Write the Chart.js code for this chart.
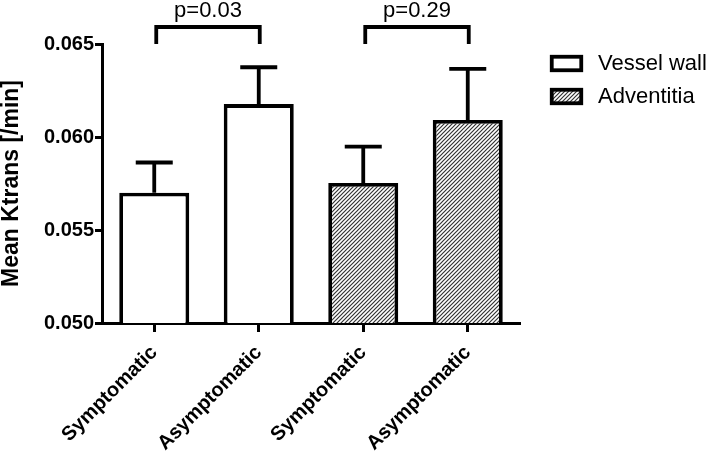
<!DOCTYPE html>
<html>
<head>
<meta charset="utf-8">
<script src="https://cdn.jsdelivr.net/npm/chart.js@4.4.1/dist/chart.umd.min.js"></script>
<style>
  html, body { margin: 0; padding: 0; background: #fff; }
  #wrap { width: 709px; height: 456px; }
</style>
</head>
<body>
<div id="wrap"><canvas id="c" width="709" height="456"></canvas></div>
<script>
// ---- data ----
const categories = ["Symptomatic", "Asymptomatic", "Symptomatic", "Asymptomatic"];
const seriesNames = ["Vessel wall", "Adventitia"];
const vesselWallMeans = [0.0570, 0.06177, null, null];
const adventitiaMeans = [null, null, 0.05753, 0.06091];
const vesselWallErrTop = [0.05863, 0.06375, null, null];
const adventitiaErrTop = [null, null, 0.05948, 0.06366];
const yTicks = [0.050, 0.055, 0.060, 0.065];
const bracketPairs = [[0, 1], [2, 3]];
const bracketLabels = ["p=0.03", "p=0.29"];
const yTitle = "Mean Ktrans [/min]";

const FONT = "'Liberation Sans', Arial, Helvetica, sans-serif";

// hatch pattern
function makeHatch() {
  const s = 4;
  const pc = document.createElement('canvas');
  pc.width = s; pc.height = s;
  const g = pc.getContext('2d');
  g.fillStyle = '#ffffff';
  g.fillRect(0, 0, s, s);
  g.strokeStyle = '#333333';
  g.lineWidth = 1.2;
  g.beginPath();
  g.moveTo(0, s); g.lineTo(s, 0);
  g.moveTo(-1, 1); g.lineTo(1, -1);
  g.moveTo(s - 1, s + 1); g.lineTo(s + 1, s - 1);
  g.stroke();
  return document.getElementById('c').getContext('2d').createPattern(pc, 'repeat');
}
const hatch = makeHatch();

const errTops = [vesselWallErrTop, adventitiaErrTop];

const extras = {
  id: 'extras',
  afterDatasetsDraw(chart) {
    const ctx = chart.ctx;
    const y = chart.scales.y;
    const x = chart.scales.x;
    ctx.save();
    ctx.strokeStyle = '#000';
    ctx.lineWidth = 3.8;
    ctx.lineCap = 'butt';
    // error bars (upper only)
    chart.data.datasets.forEach((ds, di) => {
      const meta = chart.getDatasetMeta(di);
      ds.data.forEach((v, i) => {
        if (v == null) return;
        const el = meta.data[i];
        const top = y.getPixelForValue(errTops[di][i]);
        const base = y.getPixelForValue(v);
        ctx.beginPath();
        ctx.moveTo(el.x, base);
        ctx.lineTo(el.x, top);
        ctx.moveTo(el.x - 18.5, top);
        ctx.lineTo(el.x + 18.5, top);
        ctx.stroke();
      });
    });
    // significance brackets
    const topPx = y.getPixelForValue(y.max);
    bracketPairs.forEach((p, k) => {
      const x1 = x.getPixelForValue(p[0]) + 2;
      const x2 = x.getPixelForValue(p[1]) + 1;
      const yb = topPx - 17;
      ctx.beginPath();
      ctx.moveTo(x1, topPx);
      ctx.lineTo(x1, yb);
      ctx.lineTo(x2, yb);
      ctx.lineTo(x2, topPx);
      ctx.stroke();
      ctx.fillStyle = '#000';
      ctx.font = '22px ' + FONT;
      ctx.textAlign = 'center';
      ctx.textBaseline = 'alphabetic';
      ctx.fillText(bracketLabels[k], (x1 + x2) / 2, yb - 10);
    });
    // legend
    const lx = 550, ly = [55, 88];
    chart.data.datasets.forEach((ds, di) => {
      ctx.fillStyle = ds.backgroundColor;
      ctx.fillRect(lx + 1.75, ly[di] + 1.75, 29.5, 13.5);
      ctx.lineWidth = 3.8;
      ctx.strokeRect(lx + 1.75, ly[di] + 1.75, 29.5, 13.5);
      ctx.fillStyle = '#000';
      ctx.font = '22px ' + FONT;
      ctx.textAlign = 'left';
      ctx.textBaseline = 'middle';
      ctx.fillText(ds.label, 598, ly[di] + 9);
    });
    ctx.restore();
  }
};

new Chart(document.getElementById('c'), {
  type: 'bar',
  data: {
    labels: categories,
    datasets: [
      { label: seriesNames[0], data: vesselWallMeans, backgroundColor: '#ffffff',
        borderColor: '#000', borderWidth: 3.8, borderSkipped: 'bottom', grouped: false },
      { label: seriesNames[1], data: adventitiaMeans, backgroundColor: hatch,
        borderColor: '#000', borderWidth: 3.8, borderSkipped: 'bottom', grouped: false }
    ]
  },
  options: {
    responsive: false,
    animation: false,
    devicePixelRatio: 1,
    layout: { padding: { left: 0, top: 44, right: 189, bottom: 0 } },
    datasets: { bar: { categoryPercentage: 1.0, barPercentage: 0.67 } },
    plugins: { legend: { display: false }, tooltip: { enabled: false } },
    scales: {
      x: {
        offset: true,
        grid: { display: true, drawOnChartArea: false, drawTicks: true, tickLength: 9,
                tickColor: '#000', tickWidth: 3, offset: false },
        border: { display: true, color: '#000', width: 3 },
        ticks: { color: '#000', font: { family: FONT, size: 20, weight: 'bold' },
                 minRotation: 45, maxRotation: 45, padding: 9 },
        afterFit(s) { s.height = 133; }
      },
      y: {
        min: 0.050, max: 0.065,
        afterBuildTicks(s) { s.ticks = yTicks.map(v => ({ value: v })); },
        grid: { display: true, drawOnChartArea: false, drawTicks: true, tickLength: 7,
                tickColor: '#000', tickWidth: 3 },
        border: { display: true, color: '#000', width: 3 },
        ticks: { color: '#000', font: { family: FONT, size: 20, weight: 'bold' }, padding: 1,
                 callback: v => v.toFixed(3) },
        title: { display: true, text: yTitle, color: '#000',
                 font: { family: FONT, size: 23, weight: 'bold', lineHeight: 1.0 },
                 padding: { top: 0, bottom: 0 } },
        afterFit(s) { s.width = 102; }
      }
    }
  },
  plugins: [extras]
});
</script>
</body>
</html>
